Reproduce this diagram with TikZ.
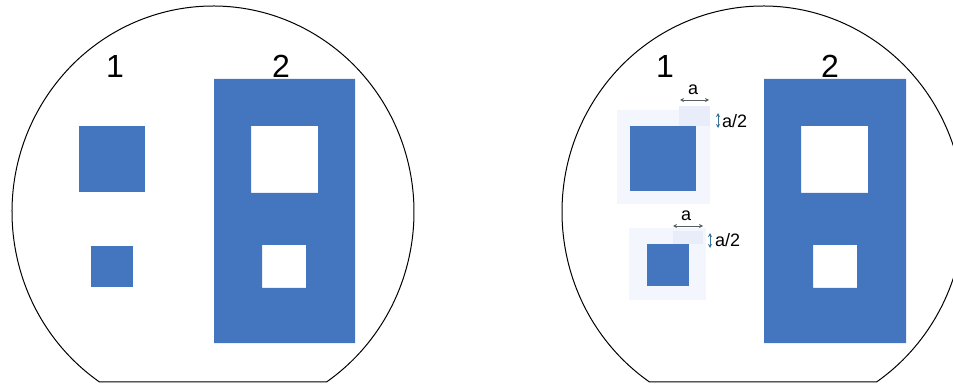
\documentclass[tikz,border=0pt]{standalone}
\usepackage{fontspec}
\setmainfont{Liberation Sans}
\usepackage{xcolor}
\usetikzlibrary{arrows.meta,positioning,calc}

\definecolor{filmblue}{RGB}{67,118,191}
\definecolor{haloblue}{RGB}{243,246,253}
\definecolor{patchblue}{RGB}{233,236,249}
\definecolor{dimgray}{RGB}{85,95,95}
\definecolor{dimteal}{RGB}{55,115,150}

\tikzset{
    wafer/.style={draw=black, line width=1pt},
    film/.style={fill=filmblue, even odd rule},
    halo/.style={fill=haloblue},
    patch/.style={fill=patchblue},
    dimline/.style={{Stealth[length=4pt,width=4pt]}-{Stealth[length=4pt,width=4pt]}, line width=0.7pt},
    bignum/.style={font=\fontsize{32}{32}\selectfont, inner sep=0pt, anchor=base},
    dimlabel/.style={font=\fontsize{18}{18}\selectfont, inner sep=0pt}
}

\begin{document}
\begin{tikzpicture}[x=1pt, y=-1pt]
    \useasboundingbox (0,0) rectangle (953,387);
    \clip (0,0) rectangle (953,387);

    % left wafer
    \draw[wafer] (213,212) ++(124.4:201 and 206) arc[start angle=124.4, end angle=415.6, x radius=201, y radius=206] -- cycle;
    \fill[filmblue] (79,126) rectangle (145,192);
    \fill[filmblue] (91,246) rectangle (133,287);
    \fill[film] (214,79) rectangle (355,343) (251,126) rectangle (318,193) (262,245) rectangle (306,288);
    \node[bignum] (oneL) at (115,78) {1};
    \node[bignum] (twoL) at (281,78) {2};

    % right wafer
    \draw[wafer] (763,212) ++(124.4:201 and 206) arc[start angle=124.4, end angle=415.6, x radius=201, y radius=206] -- cycle;
    \fill[halo] (617,110) rectangle (710,204);
    \fill[patch] (679,106) rectangle (710,126);
    \fill[halo] (629,228) rectangle (706,300);
    \fill[patch] (673,231) rectangle (703,244);
    \fill[filmblue] (630,126) rectangle (696,191);
    \fill[filmblue] (647,244) rectangle (689,286);
    \fill[film] (764,79) rectangle (906,343) (801,126) rectangle (868,193) (813,245) rectangle (857,288);
    \node[bignum] (oneR) at (665,78) {1};
    \node[bignum] (twoR) at (830,78) {2};

    % dimensions, big square
    \coordinate (aBigW) at (680,100);
    \coordinate (aBigE) at (709,100);
    \draw[dimline, dimgray] (aBigW) -- (aBigE);
    \node[dimlabel, anchor=base] (aBig) at (693,95) {a};
    \coordinate (hBigN) at (718,113);
    \coordinate (hBigS) at (718,128);
    \draw[dimline, dimteal] (hBigN) -- (hBigS);
    \node[dimlabel, anchor=base west] (hBig) at (722,128) {a/2};

    % dimensions, small square
    \coordinate (aSmlW) at (673,226);
    \coordinate (aSmlE) at (703,226);
    \draw[dimline, dimgray] (aSmlW) -- (aSmlE);
    \node[dimlabel, anchor=base] (aSml) at (686,221) {a};
    \coordinate (hSmlN) at (710,233);
    \coordinate (hSmlS) at (710,248);
    \draw[dimline, dimteal] (hSmlN) -- (hSmlS);
    \node[dimlabel, anchor=base west] (hSml) at (715,247) {a/2};
\end{tikzpicture}
\end{document}
